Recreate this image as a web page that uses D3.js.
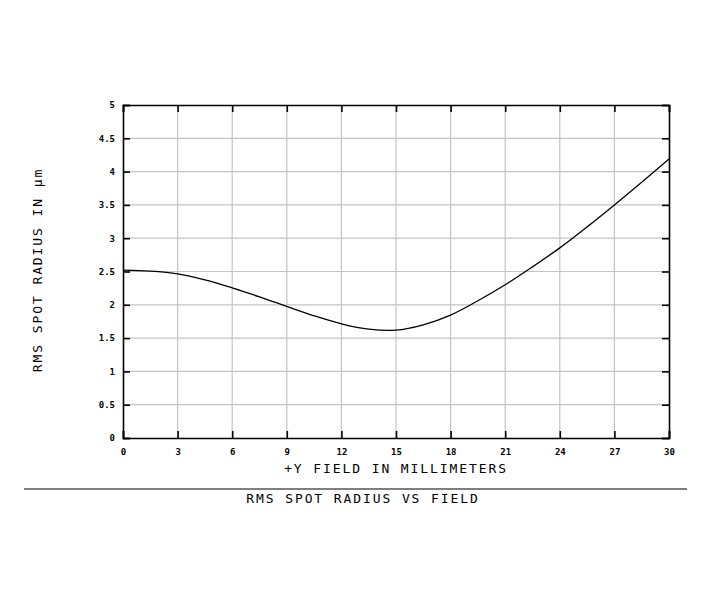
<!DOCTYPE html>
<html>
<head>
<meta charset="utf-8">
<script src="https://cdn.jsdelivr.net/npm/d3@7"></script>
<style>
  body { margin: 0; background: #fff; }
  text { font-family: "DejaVu Sans Mono", monospace; fill: #000; }
  .tick-label { font-size: 9px; font-weight: bold; }
  .axis-title { font-size: 13px; letter-spacing: 1.9px; }
</style>
</head>
<body>
<div id="chart"></div>
<script>
// Field positions (mm) and RMS spot radius (um)
var fieldMm = [0, 1.5, 3, 4.5, 6, 7.5, 9, 10.5, 12, 13.5, 15, 16.5, 18, 19.5, 21, 22.5, 24, 25.5, 27, 28.5, 30];
var rmsRadius = [2.52, 2.505, 2.465, 2.375, 2.255, 2.12, 1.975, 1.835, 1.715, 1.635, 1.62, 1.70, 1.845, 2.06, 2.30, 2.57, 2.855, 3.17, 3.50, 3.84, 4.19];

var xTicks = [0, 3, 6, 9, 12, 15, 18, 21, 24, 27, 30];
var yTicks = [0, 0.5, 1, 1.5, 2, 2.5, 3, 3.5, 4, 4.5, 5];

var xLabel = "+Y FIELD IN MILLIMETERS";
var yLabel = "RMS SPOT RADIUS IN \u00b5m";
var title = "RMS SPOT RADIUS VS FIELD";

(function(d3) {

    var W = 710, H = 599;
    var margin = {top: 105, right: 41, bottom: 161, left: 123},
        width = W - margin.left - margin.right,
        height = H - margin.top - margin.bottom;

    var svg = d3.select("#chart").append("svg")
        .attr("width", W)
        .attr("height", H);

    var g = svg.append("g")
        .attr("transform", "translate(" + margin.left + "," + margin.top + ")");

    var x = d3.scaleLinear().domain([0, 30]).range([0, width]);
    var y = d3.scaleLinear().domain([0, 5]).range([height, 0]);

    // grid
    g.append("g").selectAll("line").data(xTicks.slice(1, -1)).join("line")
        .attr("x1", d => x(d)).attr("x2", d => x(d))
        .attr("y1", 0).attr("y2", height)
        .attr("stroke", "#c4c4c4").attr("stroke-width", 1.2);
    g.append("g").selectAll("line").data(yTicks.slice(1, -1)).join("line")
        .attr("y1", d => y(d)).attr("y2", d => y(d))
        .attr("x1", 0).attr("x2", width)
        .attr("stroke", "#c4c4c4").attr("stroke-width", 1.2);

    // axes with inward ticks on all sides
    var tk = 7;
    g.append("g").attr("transform", "translate(0," + height + ")")
        .call(d3.axisBottom(x).tickValues(xTicks).tickSize(-tk).tickPadding(tk + 4).tickFormat(d3.format("d")));
    g.append("g")
        .call(d3.axisTop(x).tickValues(xTicks).tickSize(-tk).tickFormat(""));
    g.append("g")
        .call(d3.axisLeft(y).tickValues(yTicks).tickSize(-tk).tickPadding(tk + 1).tickFormat(d3.format("")));
    g.append("g").attr("transform", "translate(" + width + ",0)")
        .call(d3.axisRight(y).tickValues(yTicks).tickSize(-tk).tickFormat(""));

    g.selectAll(".domain").attr("stroke", "#000").attr("stroke-width", 1.6);
    g.selectAll(".tick line").attr("stroke", "#000").attr("stroke-width", 1.6);
    g.selectAll(".tick text").attr("class", "tick-label")
        .style("font-family", "DejaVu Sans Mono, monospace");

    // curve
    var line = d3.line()
        .x(function(d, i) { return x(fieldMm[i]); })
        .y(function(d) { return y(d); })
        .curve(d3.curveCatmullRom.alpha(0.5));

    g.append("path")
        .attr("d", line(rmsRadius))
        .attr("fill", "none")
        .attr("stroke", "#000")
        .attr("stroke-width", 1.3);

    // axis titles
    svg.append("text").attr("class", "axis-title")
        .attr("x", 396).attr("y", 473)
        .attr("text-anchor", "middle")
        .text(xLabel);

    svg.append("text").attr("class", "axis-title")
        .attr("transform", "translate(42,270) rotate(-90)")
        .attr("text-anchor", "middle")
        .text(yLabel);

    // separator and title
    svg.append("line")
        .attr("x1", 24).attr("x2", 687)
        .attr("y1", 489).attr("y2", 489)
        .attr("stroke", "#555").attr("stroke-width", 1.3);

    svg.append("text").attr("class", "axis-title")
        .attr("x", 363).attr("y", 503)
        .attr("text-anchor", "middle")
        .text(title);

})(d3);
</script>
</body>
</html>
